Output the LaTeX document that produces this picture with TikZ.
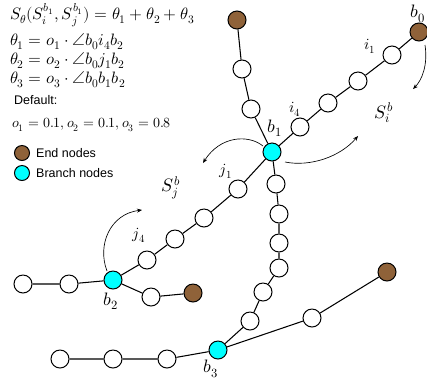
\documentclass[tikz,border=0pt]{standalone}
\usepackage{fontspec}
\usepackage{unicode-math}
\setmathfont{Latin Modern Math}
\usetikzlibrary{arrows.meta}
\newfontfamily\labelsans{Liberation Sans}
\definecolor{endbrown}{RGB}{143,98,57}
\definecolor{branchcyan}{RGB}{0,255,255}
\tikzset{
  wn/.style={circle,draw=black,fill=white,minimum size=18pt,inner sep=0pt,line width=1pt},
  en/.style={wn,fill=endbrown},
  bn/.style={wn,fill=branchcyan},
  edge/.style={line width=1.05pt},
  curv/.style={line width=0.65pt,-{Stealth[length=5pt,width=4pt]}},
  lbl/.style={inner sep=0pt,font=\fontsize{18}{20}\selectfont},
  slbl/.style={inner sep=0pt,font=\fontsize{15.5}{17}\selectfont},
  frm/.style={anchor=west,inner sep=0pt,font=\fontsize{16.5}{19}\selectfont},
  txt/.style={anchor=west,inner sep=0pt,font=\labelsans\fontsize{12.5}{14}\selectfont},
  lg/.style={circle,draw=black,minimum size=15pt,inner sep=0pt,line width=1pt}
}
\begin{document}
\begin{tikzpicture}[x=1pt,y=-1pt]
\useasboundingbox (0,0) rectangle (427,384);
% text block
\node[frm] (f0) at (10,15) {$S_\theta(S_i^{b_1},S_j^{b_1})=\theta_1+\theta_2+\theta_3$};
\node[frm] (f1) at (10,42) {$\theta_1=o_1\cdot\angle b_0i_4b_2$};
\node[frm] (f2) at (10,61) {$\theta_2=o_2\cdot\angle b_0j_1b_2$};
\node[frm] (f3) at (10,80) {$\theta_3=o_3\cdot\angle b_0b_1b_2$};
\node[txt] (def) at (14,100) {Default:};
\node[frm,font=\fontsize{14}{16}\selectfont] (f4) at (12,125) {$o_1=0.1,o_2=0.1,o_3=0.8$};
\node[lg,fill=endbrown] (lge) at (22,153) {};
\node[txt] (lget) at (36,153) {End nodes};
\node[lg,fill=branchcyan] (lgb) at (22,173) {};
\node[txt] (lgbt) at (36,173) {Branch nodes};

% nodes
\node[en] (t0) at (237,20) {};
\node[wn] (t1) at (242,69) {};
\node[wn] (t2) at (251,109) {};
\node[bn] (b1) at (272,152) {};
\node[wn] (i4) at (300,127) {};
\node[wn] (i3) at (328,103) {};
\node[wn] (i2) at (358,81) {};
\node[wn] (i1) at (392,55) {};
\node[en] (b0) at (419,32) {};
\node[wn] (j1) at (238,189) {};
\node[wn] (j2) at (204,218) {};
\node[wn] (j3) at (175,239) {};
\node[wn] (j4) at (147,260) {};
\node[bn] (b2) at (113,280) {};
\node[wn] (l1) at (69,284) {};
\node[wn] (l0) at (23,284) {};
\node[wn] (r1) at (151,297) {};
\node[en] (r2) at (193,293) {};
\node[wn] (v1) at (276,184) {};
\node[wn] (v2) at (279,214) {};
\node[wn] (v3) at (279,243) {};
\node[wn] (v4) at (279,268) {};
\node[wn] (v5) at (263,292) {};
\node[wn] (v6) at (250,321) {};
\node[bn] (b3) at (218,350) {};
\node[wn] (m1) at (312,318) {};
\node[en] (m2) at (387,272) {};
\node[wn] (n1) at (167,359) {};
\node[wn] (n2) at (113,359) {};
\node[wn] (n3) at (60,359) {};

% edges
\draw[edge] (t0)--(t1) (t1)--(t2) (t2)--(b1);
\draw[edge] (b1)--(i4) (i4)--(i3) (i3)--(i2) (i2)--(i1) (i1)--(b0);
\draw[edge] (b1)--(j1) (j1)--(j2) (j2)--(j3) (j3)--(j4) (j4)--(b2);
\draw[edge] (b2)--(l1) (l1)--(l0) (b2)--(r1) (r1)--(r2);
\draw[edge] (b1)--(v1) (v1)--(v2) (v2)--(v3) (v3)--(v4) (v4)--(v5) (v5)--(v6) (v6)--(b3);
\draw[edge] (b3)--(m1) (m1)--(m2) (b3)--(n1) (n1)--(n2) (n2)--(n3);

% labels
\node[lbl] (lb0) at (418,14) {$b_0$};
\node[lbl] (lb1) at (275,128) {$b_1$};
\node[lbl] (lb2) at (111,301) {$b_2$};
\node[lbl] (lb3) at (211,369) {$b_3$};
\node[slbl] (li1) at (370,46) {$i_1$};
\node[slbl] (li4) at (295,109) {$i_4$};
\node[slbl] (lj1) at (226,171) {$j_1$};
\node[slbl] (lj4) at (139,235) {$j_4$};
\node[lbl] (lsi) at (384,113) {$S_i^b$};
\node[lbl] (lsj) at (171,188) {$S_j^b$};

% curved arrows
\coordinate (a1s) at (425,45);
\coordinate (a1e) at (413,89);
\draw[curv] (a1s) .. controls (428,65) and (422,80) .. (a1e);
\coordinate (a2s) at (285,162);
\coordinate (a2e) at (358,136);
\draw[curv] (a2s) .. controls (310,167) and (340,157) .. (a2e);
\coordinate (a3s) at (263,146);
\coordinate (a3e) at (203,163);
\draw[curv] (a3s) .. controls (248,134) and (220,136) .. (a3e);
\coordinate (a4s) at (107,271);
\coordinate (a4e) at (142,210);
\draw[curv] (a4s) .. controls (97,245) and (110,214) .. (a4e);
\end{tikzpicture}
\end{document}
